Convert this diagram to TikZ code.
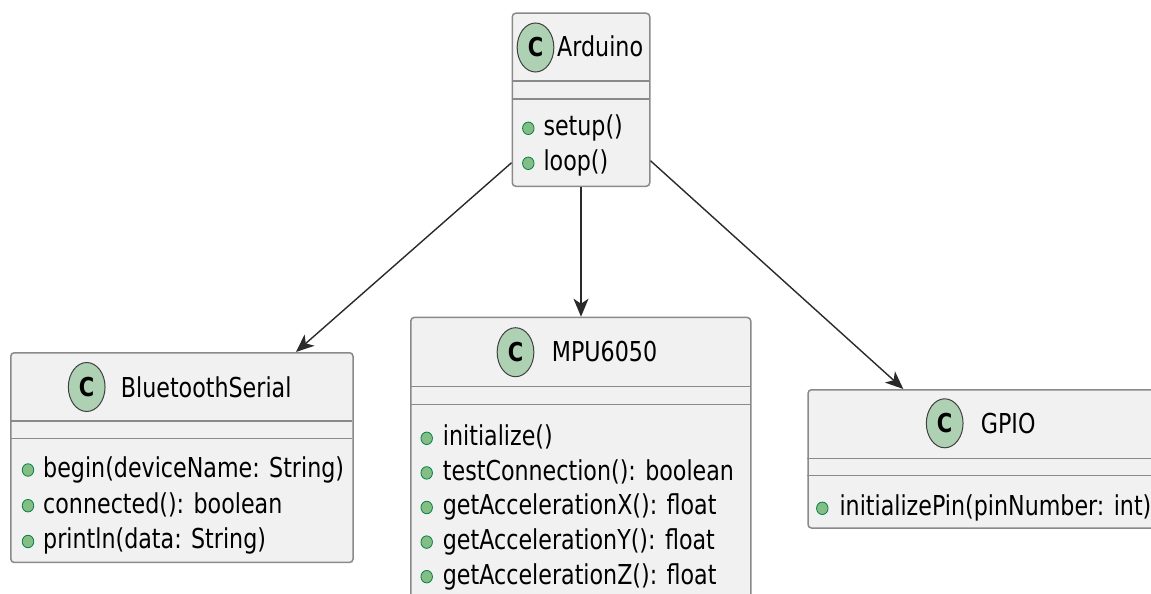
\documentclass[tikz,border=0pt]{standalone}
\usepackage{fontspec}
\setmainfont[FakeStretch=0.81]{DejaVu Sans}
\usetikzlibrary{arrows.meta,shapes.geometric}
\definecolor{boxfill}{HTML}{F1F1F1}
\definecolor{boxline}{HTML}{8A8A8A}
\definecolor{spotfill}{HTML}{ADD1B2}
\definecolor{spotline}{HTML}{404040}
\definecolor{dotfill}{HTML}{84BE84}
\definecolor{dotline}{HTML}{038048}
\definecolor{arrcol}{HTML}{2A2A2A}
\newcommand{\umltxt}{\fontsize{27.4}{32}\selectfont}
\newcommand{\umlspot}{\fontsize{26}{30}\selectfont\bfseries}
\begin{document}
\begin{tikzpicture}[x=1pt,y=-1pt,
  classbox/.style={draw=boxline, fill=boxfill, line width=1.5pt, rounded corners=3.5pt, anchor=north west, inner sep=0pt},
  sepline/.style={draw=boxline, line width=1.5pt},
  spot/.style={ellipse, draw=spotline, fill=spotfill, line width=1pt, minimum width=36.7pt, minimum height=49pt, inner sep=0pt, font=\umlspot},
  mdot/.style={ellipse, draw=dotline, fill=dotfill, line width=0.8pt, minimum width=11.5pt, minimum height=12.5pt, inner sep=0pt},
  umllabel/.style={anchor=base west, inner sep=0pt, font=\umltxt, text=black},
  arr/.style={draw=arrcol, line width=1.4pt, -{Stealth[length=18pt,width=15pt,inset=5pt]}}
]
\useasboundingbox (0,0) rectangle (1151,594);
\fill[white] (0,0) rectangle (1151,594);
\clip (0,0) rectangle (1151,594);

% Arduino
\node[classbox, minimum width=137.5pt, minimum height=173pt] (ard) at (511.5,12.5) {};
\draw[sepline] (511.5,81) -- (649,81);
\draw[sepline] (511.5,99) -- (649,99);
\node[spot] (ardC) at (535.5,47.5) {C};
\node[umllabel] (ardT) at (557,56.7) {Arduino};
\node[mdot] (ardD1) at (528.3,128.3) {};
\node[umllabel] (ardM1) at (543.3,135.8) {setup()};
\node[mdot] (ardD2) at (528.3,163.3) {};
\node[umllabel] (ardM2) at (543.3,170.8) {loop()};

% BluetoothSerial
\node[classbox, minimum width=342.3pt, minimum height=209.7pt] (bt) at (10,352) {};
\draw[sepline] (10,421) -- (352.3,421);
\draw[sepline] (10,438.7) -- (352.3,438.7);
\node[spot] (btC) at (86.7,387) {C};
\node[umllabel] (btT) at (120.7,397) {BluetoothSerial};
\node[mdot] (btD1) at (28,470) {};
\node[umllabel] (btM1) at (43,477.3) {begin(deviceName: String)};
\node[mdot] (btD2) at (28,505.7) {};
\node[umllabel] (btM2) at (43,513) {connected(): boolean};
\node[mdot] (btD3) at (28,541.5) {};
\node[umllabel] (btM3) at (43,548.8) {println(data: String)};

% MPU6050
\node[classbox, minimum width=340pt, minimum height=330pt] (mpu) at (410,316.7) {};
\draw[sepline] (410,386.7) -- (750,386.7);
\draw[sepline] (410,404.3) -- (750,404.3);
\node[spot] (mpuC) at (515.5,352.2) {C};
\node[umllabel] (mpuT) at (551.7,361.7) {MPU6050};
\node[mdot] (mpuD1) at (426.7,438.3) {};
\node[umllabel] (mpuM1) at (442.7,445.6) {initialize()};
\node[mdot] (mpuD2) at (426.7,472.9) {};
\node[umllabel] (mpuM2) at (442.7,480.2) {testConnection(): boolean};
\node[mdot] (mpuD3) at (426.7,507.5) {};
\node[umllabel] (mpuM3) at (442.7,514.8) {getAccelerationX(): float};
\node[mdot] (mpuD4) at (426.7,542.1) {};
\node[umllabel] (mpuM4) at (442.7,549.4) {getAccelerationY(): float};
\node[mdot] (mpuD5) at (426.7,576.7) {};
\node[umllabel] (mpuM5) at (442.7,584) {getAccelerationZ(): float};

% GPIO
\node[classbox, minimum width=360pt, minimum height=138.3pt] (gpio) at (807.3,389) {};
\draw[sepline] (807.3,458.3) -- (1167.3,458.3);
\draw[sepline] (807.3,475.7) -- (1167.3,475.7);
\node[spot] (gpioC) at (944.7,423.3) {C};
\node[umllabel] (gpioT) at (980.7,433.3) {GPIO};
\node[mdot] (gpioD1) at (822.3,508.3) {};
\node[umllabel] (gpioM1) at (839.3,515.6) {initializePin(pinNumber: int)};

% connectors
\draw[arr] ([yshift=-63pt]ard.west) -- ([xshift=286pt]bt.north west);
\draw[arr] (ard.south) -- (ard.south |- mpu.north);
\draw[arr] ([yshift=-61pt]ard.east) -- ([xshift=96pt]gpio.north west);
\end{tikzpicture}
\end{document}
